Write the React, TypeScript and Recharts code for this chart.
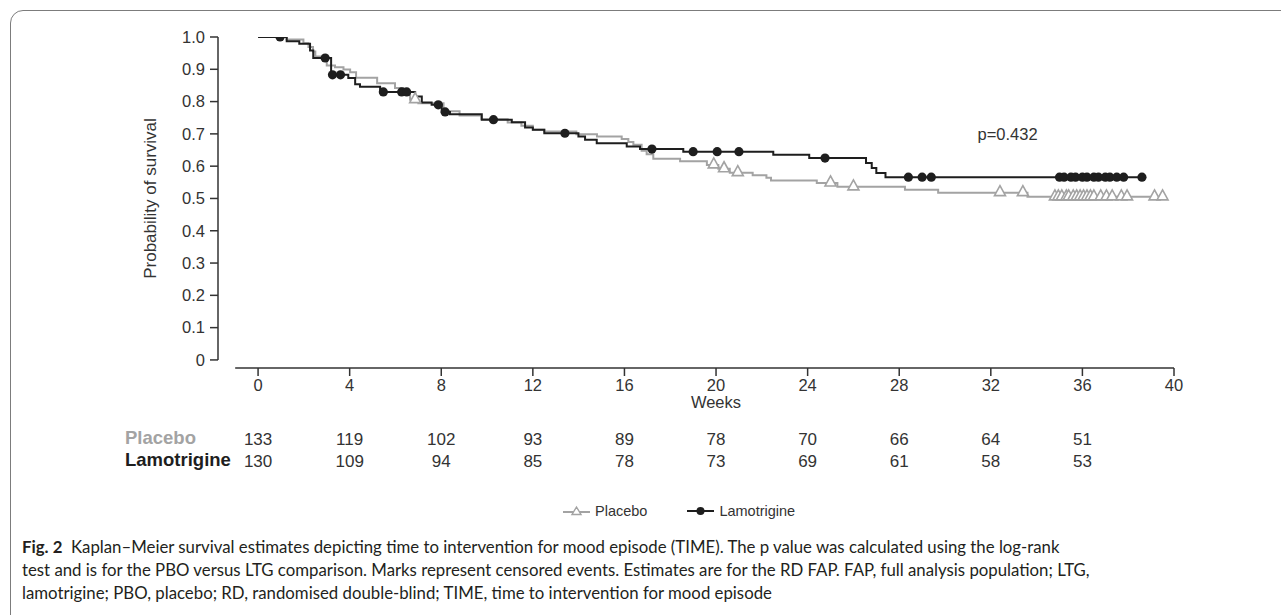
import { ComposedChart, Line, XAxis, YAxis, Legend, ReferenceLine } from 'recharts';

// Kaplan–Meier steps: [week, survival after the drop]
const placeboSteps: [number, number][] = [
  [1.25, 0.992], [1.98, 0.981], [2.2, 0.969], [2.4, 0.955], [2.5, 0.94],
  [3.0, 0.912], [3.36, 0.906], [3.73, 0.899], [4.02, 0.891], [4.28, 0.874],
  [5.2, 0.857], [5.98, 0.842], [6.35, 0.821], [6.64, 0.806], [7.0, 0.795],
  [8.1, 0.77], [8.8, 0.757], [9.75, 0.745], [10.9, 0.735], [11.5, 0.725],
  [12.0, 0.713], [12.5, 0.707], [13.9, 0.699], [14.8, 0.692], [15.88, 0.684],
  [16.17, 0.675], [16.39, 0.666], [16.75, 0.648], [16.97, 0.637], [17.26, 0.623],
  [18.43, 0.615], [19.6, 0.604], [20.1, 0.592], [20.6, 0.58], [21.6, 0.572],
  [22.2, 0.564], [22.4, 0.556], [24.4, 0.548], [25.3, 0.536], [28.25, 0.527],
  [29.7, 0.518], [33.6, 0.505],
];
const placeboCensored = [
  6.86, 19.9, 20.35, 20.95, 25.0, 26.0, 32.4, 33.4,
  34.8, 34.95, 35.1, 35.3, 35.4, 35.6, 35.75, 35.9, 36.05, 36.2, 36.35, 36.5,
  36.8, 37.05, 37.3, 37.7, 37.95, 39.15, 39.5,
];

const lamotrigineSteps: [number, number][] = [
  [1.25, 0.987], [1.8, 0.979], [2.27, 0.958], [2.41, 0.935], [3.19, 0.883],
  [3.94, 0.873], [4.24, 0.854], [4.45, 0.846], [5.33, 0.83], [6.86, 0.816],
  [7.15, 0.797], [7.58, 0.79], [8.02, 0.768], [8.38, 0.761], [9.77, 0.744],
  [11.08, 0.736], [11.66, 0.72], [12.0, 0.713], [12.5, 0.702], [13.99, 0.692],
  [14.28, 0.682], [14.79, 0.671], [16.1, 0.661], [16.68, 0.653], [18.57, 0.645],
  [22.5, 0.635], [24.07, 0.625], [26.55, 0.61], [26.8, 0.594], [27.0, 0.579],
  [27.4, 0.566],
];
const lamotrigineCensored = [
  0.96, 2.93, 3.25, 3.6, 5.47, 6.27, 6.49, 7.87, 8.17, 10.28, 13.4, 17.2,
  19.0, 20.05, 21.0, 24.76, 28.4, 29.0, 29.4,
  35.0, 35.2, 35.5, 35.7, 36.0, 36.2, 36.5, 36.7, 37.0, 37.2, 37.5, 37.8, 38.6,
];

const weekTicks = [0, 4, 8, 12, 16, 20, 24, 28, 32, 36, 40];
const survivalTicks = [0, 0.1, 0.2, 0.3, 0.4, 0.5, 0.6, 0.7, 0.8, 0.9, 1.0];
const riskWeeks = [0, 4, 8, 12, 16, 20, 24, 28, 32, 36];
const placeboAtRisk = [133, 119, 102, 93, 89, 78, 70, 66, 64, 51];
const lamotrigineAtRisk = [130, 109, 94, 85, 78, 73, 69, 61, 58, 53];

const PLACEBO = '#a3a3a3';
const LTG = '#1e1e1e';
const AXIS = '#333';
const FONT = '"Liberation Sans", Arial, sans-serif';

function buildCurve(steps: [number, number][], censored: number[]) {
  const pts = [{ week: 0, s: 1, cens: false }];
  steps.forEach(([w, s]) => pts.push({ week: w, s, cens: false }));
  censored.forEach((w) => {
    let s = 1;
    steps.forEach(([sw, ss]) => {
      if (sw <= w) s = ss;
    });
    pts.push({ week: w, s, cens: true });
  });
  return pts.sort((a, b) => a.week - b.week);
}

const placeboData = buildCurve(placeboSteps, placeboCensored);
const lamotrigineData = buildCurve(lamotrigineSteps, lamotrigineCensored);

const triPath = (cx: number, cy: number) =>
  `M${cx},${cy - 7} L${cx + 5.5},${cy + 3} L${cx - 5.5},${cy + 3} Z`;

const placeboDot = (p: any) => {
  if (!p.payload?.cens) return <g key={`pd-${p.index}`} />;
  return (
    <path key={`pd-${p.index}`} d={triPath(p.cx, p.cy)} fill="#fff" stroke={PLACEBO} strokeWidth={1.6} />
  );
};

const ltgDot = (p: any) => {
  if (!p.payload?.cens) return <g key={`ld-${p.index}`} />;
  return <circle key={`ld-${p.index}`} cx={p.cx} cy={p.cy} r={4.6} fill={LTG} />;
};

const WeekTick = (props: any) => {
  const { x, y, payload } = props;
  const i = riskWeeks.indexOf(payload.value);
  return (
    <g fontFamily={FONT} fill={AXIS}>
      <text x={x} y={y} dy={13} textAnchor="middle" fontSize={16.5}>
        {payload.value}
      </text>
      {i >= 0 && (
        <text x={x} y={y} dy={67} textAnchor="middle" fontSize={17}>
          {placeboAtRisk[i]}
        </text>
      )}
      {i >= 0 && (
        <text x={x} y={y} dy={89} textAnchor="middle" fontSize={17}>
          {lamotrigineAtRisk[i]}
        </text>
      )}
    </g>
  );
};

const XLabel = (props: any) => {
  const { viewBox } = props;
  const x0 = viewBox.x + 40;
  const cx = (x0 + viewBox.x + viewBox.width) / 2;
  return (
    <g fontFamily={FONT}>
      <text x={cx} y={viewBox.y + 40} textAnchor="middle" fill={AXIS} fontSize={16.5}>Weeks</text>
      <text x={125} y={viewBox.y + 76} fill={PLACEBO} fontWeight="bold" fontSize={18.5}>Placebo</text>
      <text x={125} y={viewBox.y + 98} fill={LTG} fontWeight="bold" fontSize={18.5}>Lamotrigine</text>
    </g>
  );
};

const YLabel = (props: any) => {
  const { viewBox } = props;
  const cy = viewBox.y + viewBox.height / 2 - 4;
  return (
    <text
      x={150}
      y={cy}
      transform={`rotate(-90, 150, ${cy})`}
      textAnchor="middle"
      dominantBaseline="central"
      fill={AXIS}
      fontSize={17}
      fontFamily={FONT}
    >
      Probability of survival
    </text>
  );
};

const LegendContent = () => (
  <div style={{ display: 'flex', alignItems: 'center', gap: 40, fontFamily: FONT, fontSize: 14.5, color: AXIS }}>
    <div style={{ display: 'flex', alignItems: 'center', gap: 5 }}>
      <svg width={27} height={14}>
        <line x1={0} y1={8} x2={27} y2={8} stroke={PLACEBO} strokeWidth={2} />
        <path d="M13.5,3 L18,10.5 L9,10.5 Z" fill="#fff" stroke={PLACEBO} strokeWidth={1.4} />
      </svg>
      <span>Placebo</span>
    </div>
    <div style={{ display: 'flex', alignItems: 'center', gap: 5 }}>
      <svg width={27} height={14}>
        <line x1={0} y1={7} x2={27} y2={7} stroke={LTG} strokeWidth={2} />
        <circle cx={13.5} cy={7} r={4} fill={LTG} />
      </svg>
      <span>Lamotrigine</span>
    </div>
  </div>
);

export default function App() {
  return (
    <div style={{ position: 'absolute', left: 0, top: 0, width: 1281, height: 615, overflow: 'hidden', background: '#fff' }}>
      <div
        style={{
          position: 'absolute', left: 10, top: 10, width: 1300, height: 700,
          border: '1.5px solid #7c7c7c', borderTopLeftRadius: 13,
        }}
      />
      <div style={{ position: 'absolute', left: 0, top: 0 }}>
        <ComposedChart width={1281} height={540} margin={{ top: 37, right: 107, bottom: 122, left: 158 }}>
          <XAxis
            type="number"
            dataKey="week"
            domain={[-1.75, 40]}
            ticks={weekTicks}
            allowDataOverflow
            axisLine={false}
            tickLine={{ stroke: AXIS, strokeWidth: 1.5 }}
            tickSize={8}
            height={50}
            tick={<WeekTick />}
            label={<XLabel />}
          />
          <YAxis
            type="number"
            domain={[-0.025, 1]}
            ticks={survivalTicks}
            allowDataOverflow
            axisLine={false}
            tickLine={{ stroke: AXIS, strokeWidth: 1.5 }}
            tickSize={8}
            tickMargin={5}
            width={60}
            tick={{ fill: AXIS, fontSize: 16.5, fontFamily: FONT }}
            tickFormatter={(v: number) => (v === 0 ? '0' : v.toFixed(1))}
            label={<YLabel />}
          />
          <ReferenceLine
            segment={[{ x: -1.75, y: 0 }, { x: -1.75, y: 1 }]}
            stroke={AXIS}
            strokeWidth={1.5}
          />
          <ReferenceLine
            segment={[{ x: -1.0, y: -0.025 }, { x: 40, y: -0.025 }]}
            stroke={AXIS}
            strokeWidth={1.5}
          />
          <Line
            data={placeboData}
            dataKey="s"
            type="stepAfter"
            stroke={PLACEBO}
            strokeWidth={2}
            dot={placeboDot}
            activeDot={false}
            isAnimationActive={false}
          />
          <Line
            data={lamotrigineData}
            dataKey="s"
            type="stepAfter"
            stroke={LTG}
            strokeWidth={2}
            dot={ltgDot}
            activeDot={false}
            isAnimationActive={false}
          />
          <ReferenceLine
            segment={[{ x: 31.2, y: 0.7 }, { x: 31.2, y: 0.7 }]}
            stroke="none"
            label={{ value: 'p=0.432', position: 'right', fill: AXIS, fontSize: 16.5, fontFamily: FONT }}
          />
          <Legend
            verticalAlign="middle"
            layout="horizontal"
            content={<LegendContent />}
            wrapperStyle={{ top: 503, left: 563, width: 320, height: 18 }}
          />
        </ComposedChart>
      </div>
      <div
        style={{
          position: 'absolute', left: 22, top: 535, fontFamily: 'Lato, "Open Sans", sans-serif',
          fontSize: 16.8, lineHeight: '23px', color: '#231f20', whiteSpace: 'nowrap',
        }}
      >
        <div><b>Fig. 2</b>&nbsp;&nbsp;Kaplan–Meier survival estimates depicting time to intervention for mood episode (TIME). The p value was calculated using the log-rank</div>
        <div>test and is for the PBO versus LTG comparison. Marks represent censored events. Estimates are for the RD FAP. FAP, full analysis population; LTG,</div>
        <div>lamotrigine; PBO, placebo; RD, randomised double-blind; TIME, time to intervention for mood episode</div>
      </div>
    </div>
  );
}
